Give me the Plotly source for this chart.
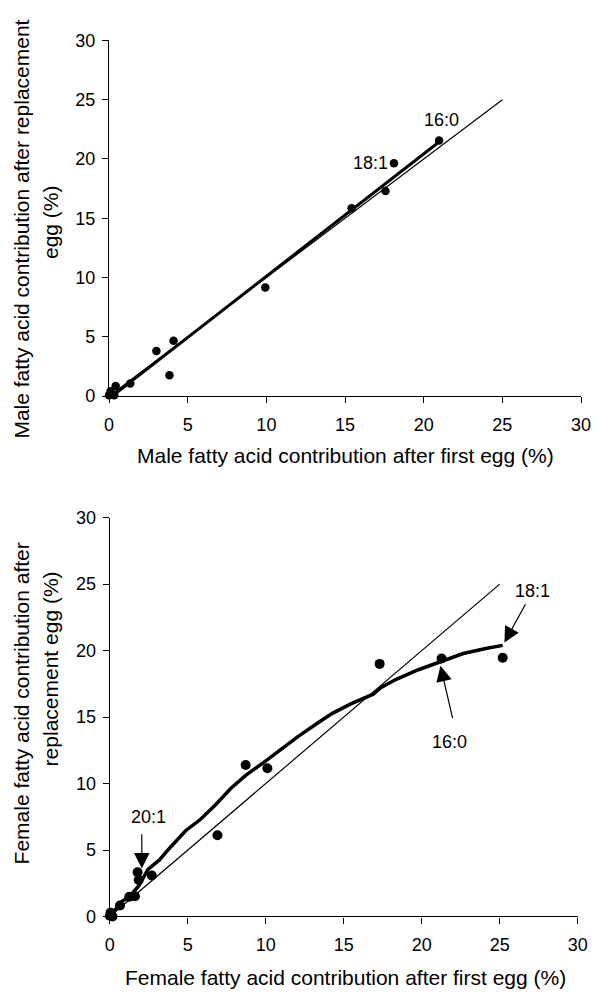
import plotly.graph_objects as go

# ---------------- data ----------------
# Top panel: male fatty acid contributions (%)
male_first = [20.98, 18.11, 17.57, 15.42, 9.93, 4.10, 3.01, 3.84, 1.35, 0.42, 0.33, 0.00, 0.10]
male_repl = [21.55, 19.63, 17.30, 15.85, 9.16, 4.66, 3.80, 1.76, 1.07, 0.85, 0.08, 0.08, 0.40]
male_fit_x = [0.2, 20.85]
male_fit_y = [0.0, 21.3]

# Bottom panel: female fatty acid contributions (%)
female_first = [25.19, 21.27, 17.30, 8.71, 10.10, 6.90, 1.78, 1.85, 2.69, 1.61, 1.25, 0.65, 0.05, 0.00, 0.17]
female_repl = [19.46, 19.41, 19.00, 11.39, 11.15, 6.11, 3.33, 2.74, 3.08, 1.52, 1.49, 0.83, 0.29, 0.05, 0.00]
female_curve_x = [0.10, 0.68, 1.30, 1.85, 2.45, 3.18, 3.90, 4.86, 5.82, 6.78, 7.75, 8.71, 10.15, 11.11,
                  12.08, 13.28, 14.24, 15.45, 16.89, 17.37, 18.33, 19.78, 21.22, 22.66, 24.10, 25.19]
female_curve_y = [0.10, 1.05, 1.55, 2.30, 3.55, 4.25, 5.23, 6.45, 7.31, 8.41, 9.63, 10.61, 11.83, 12.69,
                  13.55, 14.52, 15.26, 15.99, 16.72, 17.21, 17.82, 18.56, 19.17, 19.78, 20.15, 20.39]

identity_x = [0, 25]
identity_y = [0, 25]

tick_vals = [0, 5, 10, 15, 20, 25, 30]
tick_text = ["0", "5", "10", "15", "20", "25", "30"]

x_title_top = "Male fatty acid contribution after first egg (%)"
y_title_top = ["Male fatty acid contribution after replacement", "egg (%)"]
x_title_bot = "Female fatty acid contribution after first egg (%)"
y_title_bot = ["Female fatty acid contribution after", "replacement egg (%)"]

FONT = "Liberation Sans, Arial, sans-serif"
W, H = 604, 999

fig = go.Figure()

# ---- top panel ----
fig.add_trace(go.Scatter(x=identity_x, y=identity_y, mode="lines",
                         line=dict(color="black", width=1.2), xaxis="x", yaxis="y",
                         showlegend=False, hoverinfo="skip"))
fig.add_trace(go.Scatter(x=male_first, y=male_repl, mode="markers",
                         marker=dict(color="black", size=8.5), xaxis="x", yaxis="y",
                         showlegend=False, cliponaxis=False))
fig.add_trace(go.Scatter(x=male_fit_x, y=male_fit_y, mode="lines",
                         line=dict(color="black", width=3), xaxis="x", yaxis="y",
                         showlegend=False, hoverinfo="skip"))

# ---- bottom panel ----
fig.add_trace(go.Scatter(x=identity_x, y=identity_y, mode="lines",
                         line=dict(color="black", width=1.2), xaxis="x2", yaxis="y2",
                         showlegend=False, hoverinfo="skip"))
fig.add_trace(go.Scatter(x=female_first, y=female_repl, mode="markers",
                         marker=dict(color="black", size=10), xaxis="x2", yaxis="y2",
                         showlegend=False, cliponaxis=False))
fig.add_trace(go.Scatter(x=female_curve_x, y=female_curve_y, mode="lines",
                         line=dict(color="black", width=3.5), xaxis="x2", yaxis="y2",
                         showlegend=False, hoverinfo="skip"))

axis_common = dict(range=[0, 30], tickvals=tick_vals, ticktext=tick_text,
                   showgrid=False, zeroline=False, showline=True, linecolor="black",
                   linewidth=1.3, ticks="outside", ticklen=6, tickwidth=1.2,
                   tickcolor="black", tickfont=dict(family=FONT, size=18, color="black"),
                   fixedrange=True)

def px_x(p):
    return p / W

def px_y(p):
    return (H - p) / H

fig.update_layout(
    width=W, height=H, margin=dict(l=0, r=0, t=0, b=0),
    paper_bgcolor="white", plot_bgcolor="white", showlegend=False,
    font=dict(family=FONT, color="black"),
    xaxis=dict(domain=[px_x(106.7), px_x(590.7)], anchor="y", ticklabelstandoff=6, **axis_common),
    yaxis=dict(domain=[px_y(394), px_y(31)], anchor="x", ticklabelstandoff=3, **axis_common),
    xaxis2=dict(domain=[px_x(107.5), px_x(587.3)], anchor="y2", ticklabelstandoff=6, **axis_common),
    yaxis2=dict(domain=[px_y(925), px_y(518)], anchor="x2", ticklabelstandoff=3, **axis_common),
)

ann = []
title_font = dict(family=FONT, size=21, color="black")
lab_font = dict(family=FONT, size=18, color="black")

# axis titles
ann.append(dict(text=x_title_top, xref="paper", yref="paper", x=px_x(349), y=px_y(455),
                xanchor="center", yanchor="middle", showarrow=False, font=title_font))
ann.append(dict(text=y_title_top[0], xref="paper", yref="paper", x=px_x(16.5), y=px_y(224),
                xanchor="center", yanchor="middle", showarrow=False, textangle=-90, font=title_font))
ann.append(dict(text=y_title_top[1], xref="paper", yref="paper", x=px_x(46.5), y=px_y(216),
                xanchor="center", yanchor="middle", showarrow=False, textangle=-90, font=title_font))
ann.append(dict(text=x_title_bot, xref="paper", yref="paper", x=px_x(349), y=px_y(987),
                xanchor="center", yanchor="middle", showarrow=False, font=title_font))
ann.append(dict(text=y_title_bot[0], xref="paper", yref="paper", x=px_x(17), y=px_y(708),
                xanchor="center", yanchor="middle", showarrow=False, textangle=-90, font=title_font))
ann.append(dict(text=y_title_bot[1], xref="paper", yref="paper", x=px_x(47), y=px_y(672),
                xanchor="center", yanchor="middle", showarrow=False, textangle=-90, font=title_font))

# top labels
ann.append(dict(text="16:0", xref="x", yref="y", x=21.1, y=23.25, showarrow=False, font=lab_font))
ann.append(dict(text="18:1", xref="x", yref="y", x=16.6, y=19.68, showarrow=False, font=lab_font))

# bottom labels
ann.append(dict(text="20:1", xref="x2", yref="y2", x=2.45, y=7.5, showarrow=False, font=lab_font))
ann.append(dict(text="16:0", xref="x2", yref="y2", x=21.75, y=13.1, showarrow=False, font=lab_font))
ann.append(dict(text="18:1", xref="x2", yref="y2", x=27.1, y=24.45, showarrow=False, font=lab_font))

# bottom arrows (head at x,y; tail at ax,ay)
arrow_common = dict(text="", showarrow=True, arrowhead=2, arrowsize=2.6, arrowwidth=1.2,
                    arrowcolor="black", xref="x2", yref="y2", axref="x2", ayref="y2", standoff=0)
ann.append(dict(x=2.05, y=3.6, ax=2.05, ay=6.3, **arrow_common))
ann.append(dict(x=21.2, y=18.85, ax=22.0, ay=14.8, **arrow_common))
ann.append(dict(x=25.3, y=20.6, ax=26.7, ay=23.6, **arrow_common))

fig.update_layout(annotations=ann)

fig.write_html("out.html")
